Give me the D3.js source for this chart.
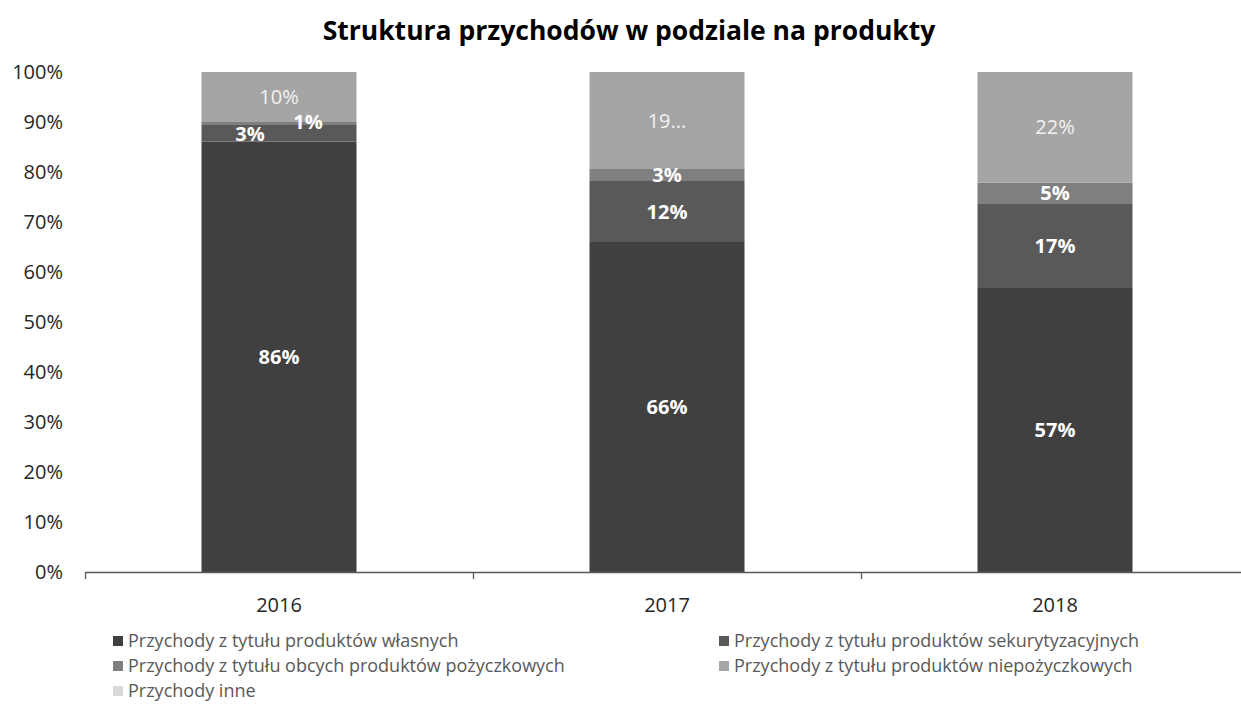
<!DOCTYPE html>
<meta charset="utf-8">
<title>Struktura przychodów</title>
<style>
body { margin: 0; background: #fff; }
text { font-family: "Open Sans", sans-serif; }
</style>
<script src="https://d3js.org/d3.v7.min.js"></script>
<body>
<script>
var width = 1241, height = 706;

// data (shares in %)
var years = ["2016", "2017", "2018"];
var series = ["Przychody z tytułu produktów własnych",
              "Przychody z tytułu produktów sekurytyzacyjnych",
              "Przychody z tytułu obcych produktów pożyczkowych",
              "Przychody z tytułu produktów niepożyczkowych",
              "Przychody inne"];
var wlasne = [86.1, 66.0, 56.8];
var sekur = [3.3, 12.2, 16.8];
var obce = [0.6, 2.4, 4.3];
var niepoz = [10.0, 19.4, 22.1];
var inne = [0, 0, 0];
var labels = [["86%", "66%", "57%"], ["3%", "12%", "17%"], ["1%", "3%", "5%"], ["10%", "19...", "22%"], ["", "", ""]];
var yTicks = [0, 10, 20, 30, 40, 50, 60, 70, 80, 90, 100];
var colors = ["#404040", "#595959", "#7f7f7f", "#a5a5a5", "#d9d9d9"];

var values = [wlasne, sekur, obce, niepoz, inne];
var rows = years.map(function(y, i) {
  var r = {year: y};
  series.forEach(function(s, k) { r[s] = values[k][i]; });
  return r;
});
var stack = d3.stack().keys(series)(rows);

var svg = d3.select("body").append("svg")
    .attr("width", width).attr("height", height);

var x = d3.scaleBand().domain(years).range([85, 1249]).paddingInner(0).paddingOuter(0);
var y = d3.scaleLinear().domain([0, 100]).range([572, 72]);
var barW = 155;

svg.append("text")
    .attr("x", 629).attr("y", 40)
    .attr("text-anchor", "middle")
    .attr("font-size", 26.5).attr("font-weight", "bold")
    .attr("fill", "#000")
    .text("Struktura przychodów w podziale na produkty");

// bars
var layer = svg.selectAll("g.layer").data(stack).enter().append("g")
    .attr("fill", function(d, i) { return colors[i]; });
layer.selectAll("rect").data(function(d) { return d; }).enter().append("rect")
    .attr("x", function(d) { return x(d.data.year) + x.bandwidth() / 2 - barW / 2; })
    .attr("width", barW)
    .attr("y", function(d) { return y(d[1]); })
    .attr("height", function(d) { return y(d[0]) - y(d[1]); });

// labels
stack.forEach(function(s, k) {
  s.forEach(function(d, i) {
    var t = labels[k][i];
    if (!t) return;
    var cx = x(d.data.year) + x.bandwidth() / 2;
    var cy = (y(d[0]) + y(d[1])) / 2;
    if (k === 1 && i === 0) { cx -= 29; cy += 1; }
    if (k === 2 && i === 0) { cx += 29; cy -= 2; }
    svg.append("text")
        .attr("x", cx).attr("y", cy)
        .attr("dy", "0.35em")
        .attr("text-anchor", "middle")
        .attr("font-size", 20)
        .attr("font-weight", k === 3 ? "normal" : "bold")
        .attr("fill", k === 3 ? "#f2f2f2" : "#fff")
        .text(t);
  });
});

// y axis labels
svg.selectAll("text.ytick").data(yTicks).enter().append("text")
    .attr("class", "ytick")
    .attr("x", 63).attr("y", function(d) { return y(d); })
    .attr("dy", "0.35em")
    .attr("text-anchor", "end")
    .attr("font-size", 20).attr("fill", "#262626")
    .text(function(d) { return d + "%"; });

// x axis
var xAxis = svg.append("g");
xAxis.append("line")
    .attr("x1", 85).attr("x2", 1249).attr("y1", 572.5).attr("y2", 572.5)
    .attr("stroke", "#595959").attr("stroke-width", 1.3);
var bounds = years.map(function(d) { return x(d); }).concat([x.range()[1]]);
xAxis.selectAll("line.tick").data(bounds).enter().append("line")
    .attr("x1", function(d) { return d + 0.5; }).attr("x2", function(d) { return d + 0.5; })
    .attr("y1", 572).attr("y2", 579)
    .attr("stroke", "#595959").attr("stroke-width", 1.3);
xAxis.selectAll("text").data(years).enter().append("text")
    .attr("x", function(d) { return x(d) + x.bandwidth() / 2; })
    .attr("y", 612)
    .attr("text-anchor", "middle")
    .attr("font-size", 20).attr("fill", "#262626")
    .text(function(d) { return d; });

// legend
var legPos = [[113, 641], [719, 641], [113, 666], [719, 666], [113, 691]];
var leg = svg.selectAll("g.leg").data(series).enter().append("g")
    .attr("transform", function(d, i) { return "translate(" + legPos[i][0] + "," + legPos[i][1] + ")"; });
leg.append("rect")
    .attr("x", 0).attr("y", -5).attr("width", 10).attr("height", 10)
    .attr("fill", function(d, i) { return colors[i]; });
leg.append("text")
    .attr("x", 15).attr("y", 0).attr("dy", "0.35em")
    .attr("font-size", 18).attr("fill", "#595959")
    .text(function(d) { return d; });
</script>
